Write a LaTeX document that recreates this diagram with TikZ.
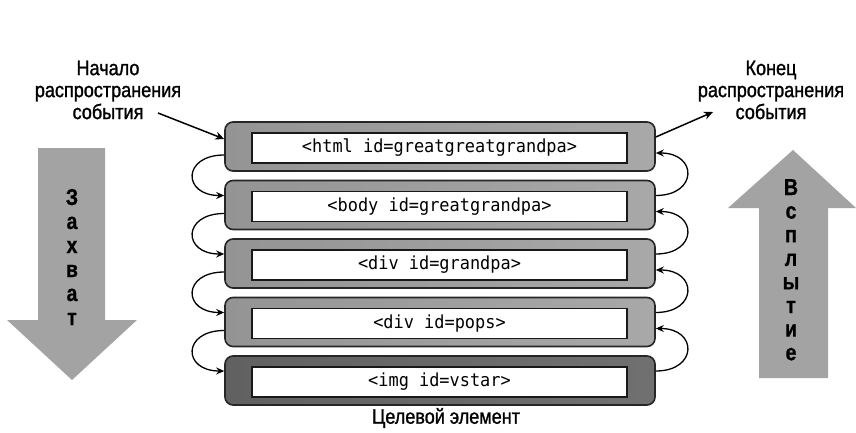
\documentclass[tikz,border=0pt]{standalone}
\usepackage{fontspec}
\setmainfont{Liberation Sans}
\newfontfamily\monofont[FakeStretch=0.94]{DejaVu Sans Mono}
\newfontfamily\labelfont[FakeStretch=0.86, FakeBold=1.2]{Liberation Sans}
\newfontfamily\letterfont[FakeStretch=0.85, UprightFont={* Bold}, FakeBold=0.8]{Liberation Sans}
\usetikzlibrary{arrows.meta,calc}

\tikzset{
  outerbox/.style={draw=black!85, line width=1.6pt, rounded corners=8pt,
    minimum width=430pt, minimum height=49pt, inner sep=0pt,
    left color=black!42, middle color=black!22, right color=black!34},
  targetbox/.style={outerbox, left color=black!62, middle color=black!42, right color=black!56},
  innerbox/.style={draw=black!90, line width=1.5pt, fill=white,
    minimum width=375pt, minimum height=30pt, inner sep=0pt,
    font=\monofont\fontsize{18}{20}\selectfont},
  caption/.style={align=center, font=\labelfont\fontsize{21}{22}\selectfont},
  hop/.style={draw=black, line width=1.3pt, -{Stealth[length=8pt,width=7pt]}},
  pointer/.style={draw=black, line width=1.5pt, -{Stealth[length=9pt,width=8pt]}},
  phase/.style={fill=black!36, draw=none},
  phaseletter/.style={anchor=base, inner sep=0pt,
    font=\letterfont\fontsize{23}{23}\selectfont},
}

\begin{document}
\begin{tikzpicture}[x=1pt, y=-1pt]
\useasboundingbox (0,0) rectangle (856,433);

% capture arrow (pointing down)
\fill[phase] (38,148) -- (105,148) -- (105,320) -- (137,320) -- (72,380)
  -- (7,320) -- (38,320) -- cycle;
\foreach \l [count=\i] in {З,а,х,в,а,т}
  \node[phaseletter] (cap\i) at (72, 181+24*\i) {\l};

% bubbling arrow (pointing up)
\fill[phase] (759,378) -- (828,378) -- (828,208) -- (856,208) -- (793,150)
  -- (728,208) -- (759,208) -- cycle;
\foreach \l [count=\i] in {В,с,п,л,ы,т,и,е}
  \node[phaseletter] (bub\i) at (791, 171.4+23.6*\i) {\l};

% nested elements
\node[outerbox]  (o1) at (440,146.5) {};
\node[outerbox]  (o2) at (440,205)   {};
\node[outerbox]  (o3) at (440,263.5) {};
\node[outerbox]  (o4) at (440,322)   {};
\node[targetbox] (o5) at (440,380.5) {};

\node[innerbox] (i1) at (439.5,148)   {<html id=greatgreatgrandpa>};
\node[innerbox] (i2) at (439.5,206.5) {<body id=greatgrandpa>};
\node[innerbox] (i3) at (439.5,265)   {<div id=grandpa>};
\node[innerbox] (i4) at (439.5,323.5) {<div id=pops>};
\node[innerbox] (i5) at (439.5,382)   {<img id=vstar>};

% capture hops on the left, bubbling hops on the right
\foreach \a/\b in {o1/o2,o2/o3,o3/o4,o4/o5} {
  \draw[hop] ($(\a.west)+(0,8.5)$) .. controls +(-42,0) and +(-42,0) .. ($(\b.west)+(0,-9.5)$);
  \draw[hop] ($(\b.east)+(0,-9.5)$) .. controls +(42,0) and +(42,0) .. ($(\a.east)+(0,6.5)$);
}

% labels
\node[caption] (start) at (108,90) {Начало\\распространения\\события};
\node[caption] (finish) at (771,90) {Конец\\распространения\\события};
\node[caption] (target) at (446,418) {Целевой элемент};

\coordinate (startfoot) at (158,113);
\coordinate (finishfoot) at (713,112);
\draw[pointer] (startfoot) -- ($(o1.west)+(0,-7.5)$);
\draw[pointer] ($(o1.east)+(0,-9.5)$) -- (finishfoot);
\end{tikzpicture}
\end{document}
